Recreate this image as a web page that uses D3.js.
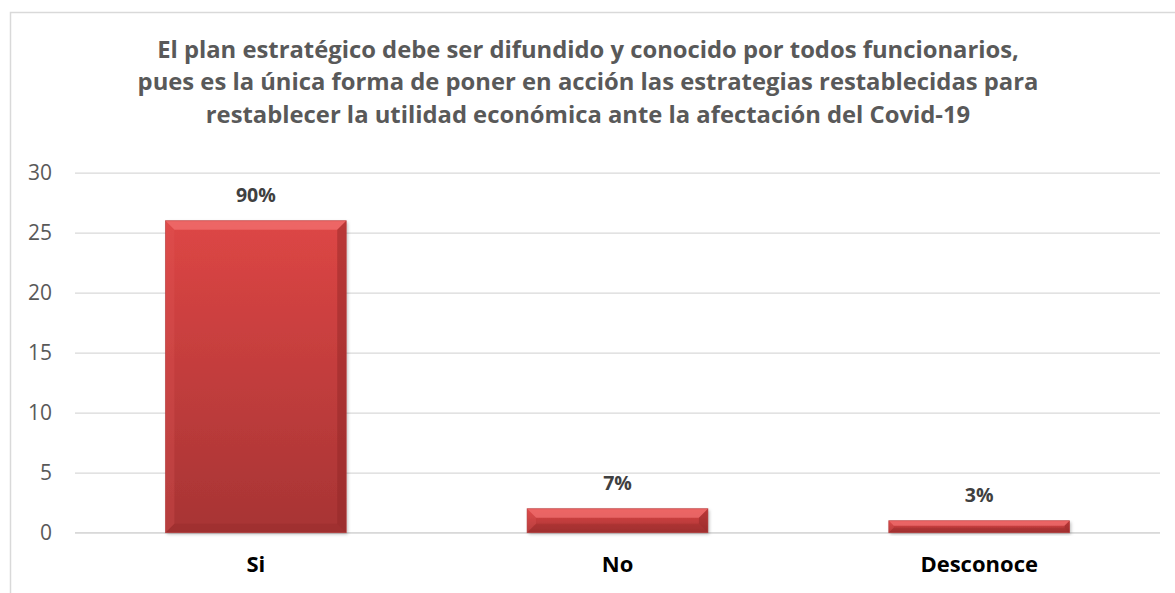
<!DOCTYPE html>
<html>
<head>
<meta charset="utf-8">
<script src="https://cdn.jsdelivr.net/npm/d3@7"></script>
<style>
  html, body { margin: 0; padding: 0; background: #fff; }
  svg { display: block; }
</style>
</head>
<body>
<svg id="chart" width="1175" height="593"></svg>
<script>
// Survey answers and their counts
const categories = ["Si", "No", "Desconoce"];
const counts = [26, 2, 1];
const percentLabels = ["90%", "7%", "3%"];
const yTicks = [0, 5, 10, 15, 20, 25, 30];
const titleLines = [
  "El plan estratégico debe ser difundido y conocido por todos funcionarios,",
  "pues es la única forma de poner en acción las estrategias restablecidas para",
  "restablecer la utilidad económica ante la afectación del Covid-19"
];

const W = 1175, H = 593;
const plot = { left: 75, right: 1160, top: 172.7, bottom: 532.7 };
const FONT = "'Open Sans', 'Liberation Sans', sans-serif";

const svg = d3.select("#chart");

// Definitions: vertical gradient for the bars and a soft shadow
const defs = svg.append("defs");
const grad = defs.append("linearGradient")
  .attr("id", "barFill").attr("x1", 0).attr("y1", 0).attr("x2", 0).attr("y2", 1);
grad.append("stop").attr("offset", "0%").attr("stop-color", "#dd4645");
grad.append("stop").attr("offset", "100%").attr("stop-color", "#a73434");

const shadow = defs.append("filter").attr("id", "barShadow")
  .attr("x", "-5%").attr("y", "-5%").attr("width", "115%").attr("height", "130%");
shadow.append("feDropShadow")
  .attr("dx", 1.5).attr("dy", 1.5).attr("stdDeviation", 1.5)
  .attr("flood-color", "#000").attr("flood-opacity", 0.25);

// Chart area outline (left and top edges visible)
svg.append("rect")
  .attr("x", 10.5).attr("y", 12.5)
  .attr("width", W + 20).attr("height", H + 20)
  .attr("fill", "#fff").attr("stroke", "#d9d9d9").attr("stroke-width", 1.5);

// Scales
const x = d3.scaleBand().domain(categories)
  .range([plot.left, plot.right]).paddingInner(0.5).paddingOuter(0.25);
const y = d3.scaleLinear().domain([0, 30]).range([plot.bottom, plot.top]);

// Horizontal gridlines and value ticks
const yAxis = d3.axisLeft(y).tickValues(yTicks).tickSize(-(plot.right - plot.left)).tickPadding(23);
const gy = svg.append("g").attr("transform", `translate(${plot.left},0)`).call(yAxis);
gy.select(".domain").remove();
gy.selectAll(".tick line").attr("stroke", "#d9d9d9").attr("stroke-width", 1.3);
gy.selectAll(".tick text")
  .attr("font-family", FONT).attr("font-size", 21).attr("fill", "#595959");

// Category axis labels
const xAxis = d3.axisBottom(x).tickSize(0).tickPadding(24);
const gx = svg.append("g").attr("transform", `translate(0,${plot.bottom})`).call(xAxis);
gx.select(".domain").attr("stroke", "#d9d9d9").attr("stroke-width", 1.3)
  .attr("d", `M${plot.left},0H${plot.right}`);
gx.selectAll(".tick text")
  .attr("font-family", FONT).attr("font-size", 22).attr("font-weight", "bold").attr("fill", "#000");

// Bars with bevelled edges
const data = categories.map((c, i) => ({ c, v: counts[i], label: percentLabels[i] }));
const bars = svg.append("g").selectAll("g.bar").data(data).join("g").attr("class", "bar");

bars.append("rect")
  .attr("x", d => x(d.c)).attr("y", d => y(d.v))
  .attr("width", x.bandwidth()).attr("height", d => y(0) - y(d.v))
  .attr("fill", "url(#barFill)").attr("filter", "url(#barShadow)");

function bevel(d) {
  const x0 = x(d.c), x1 = x0 + x.bandwidth();
  const y0 = y(d.v), y1 = y(0);
  const b = Math.min(9, (y1 - y0) / 2.4);
  return { x0, x1, y0, y1, b };
}
// top highlight
bars.append("path")
  .attr("d", d => { const g = bevel(d);
    return `M${g.x0},${g.y0}L${g.x1},${g.y0}L${g.x1 - g.b},${g.y0 + g.b}L${g.x0 + g.b},${g.y0 + g.b}Z`; })
  .attr("fill", "#f47373").attr("opacity", 0.7);
// left edge
bars.append("path")
  .attr("d", d => { const g = bevel(d);
    return `M${g.x0},${g.y0}L${g.x0 + g.b},${g.y0 + g.b}L${g.x0 + g.b},${g.y1 - g.b}L${g.x0},${g.y1}Z`; })
  .attr("fill", "#e25a5a").attr("opacity", 0.25);
// right edge
bars.append("path")
  .attr("d", d => { const g = bevel(d);
    return `M${g.x1},${g.y0}L${g.x1},${g.y1}L${g.x1 - g.b},${g.y1 - g.b}L${g.x1 - g.b},${g.y0 + g.b}Z`; })
  .attr("fill", "#8e2525").attr("opacity", 0.45);
// bottom edge
bars.append("path")
  .attr("d", d => { const g = bevel(d);
    return `M${g.x0},${g.y1}L${g.x1},${g.y1}L${g.x1 - g.b},${g.y1 - g.b}L${g.x0 + g.b},${g.y1 - g.b}Z`; })
  .attr("fill", "#8e2525").attr("opacity", 0.3);
// thin outline
bars.append("rect")
  .attr("x", d => x(d.c)).attr("y", d => y(d.v))
  .attr("width", x.bandwidth()).attr("height", d => y(0) - y(d.v))
  .attr("fill", "none").attr("stroke", "#b33a3a").attr("stroke-width", 0.8).attr("opacity", 0.7);

// Percentage labels above the bars
bars.append("text")
  .attr("x", d => x(d.c) + x.bandwidth() / 2)
  .attr("y", d => y(d.v) - 19)
  .attr("text-anchor", "middle")
  .attr("font-family", FONT).attr("font-size", 19.5).attr("font-weight", "bold")
  .attr("fill", "#404040")
  .text(d => d.label);

// Title
svg.append("g").selectAll("text").data(titleLines).join("text")
  .attr("x", 588).attr("y", (d, i) => 57.5 + i * 32.5)
  .attr("text-anchor", "middle")
  .attr("font-family", FONT).attr("font-size", 23.8).attr("font-weight", "bold")
  .attr("fill", "#595959")
  .text(d => d);
</script>
</body>
</html>
